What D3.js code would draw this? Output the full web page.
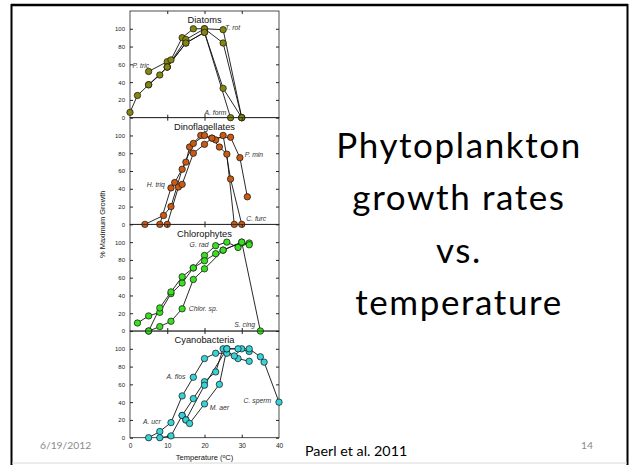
<!DOCTYPE html>
<html>
<head>
<meta charset="utf-8">
<script src="https://cdn.jsdelivr.net/npm/d3@7"></script>
<style>
  body { margin: 0; background: #fff; }
  svg { display: block; }
</style>
</head>
<body>
<svg id="slide"></svg>
<script>
// panel names and marker colours
const groups = ["Diatoms", "Dinoflagellates", "Chlorophytes", "Cyanobacteria"];
const groupColors = ["#858510", "#c95a14", "#3ade22", "#38d2d6"];

// growth curves, [temperature, % max growth], one list of series per panel
const diatomSeries = [
  [[5, 52], [10, 63], [11, 65], [14, 90], [17, 100], [20, 100], [25, 84], [30, 0]],
  [[0, 6], [2, 25], [5, 37], [8, 48], [10, 57], [15, 84], [20, 96], [25, 33], [30, 0]],
  [[5, 37], [10, 57], [15, 88], [20, 100], [25, 99], [30, 0]],
  [[10, 57], [15, 84], [20, 96], [27, 0]]
];
const dinoSeries = [
  [[8, 0], [11, 41], [12, 47], [15, 70], [16, 87], [19, 100], [22, 97], [24, 87], [26, 79], [28, 0]],
  [[4, 0], [9, 10], [11, 20], [14, 62], [17, 91], [20, 100], [23, 95], [25, 100], [27, 51], [30, 0]],
  [[10, 0], [13, 42], [14, 45], [17, 80], [20, 90], [22, 97], [27, 98], [29.5, 75], [31.5, 31]]
];
const chloroSeries = [
  [[2, 9], [5, 17], [8, 21], [11, 42], [14, 54], [17, 71], [20, 85], [23, 96], [26, 100], [29, 94], [32, 99]],
  [[5, 0], [8, 26], [11, 44], [14, 61], [17, 71], [20, 79], [23, 87], [25, 91], [30, 100], [35, 0]],
  [[5, 0], [8, 5], [11, 11], [14, 25], [17, 58], [20, 70], [25, 91], [30, 100], [32, 97]]
];
const cyanoSeries = [
  [[5, 0], [8, 7], [11, 17], [14, 47], [17, 68], [20, 89], [23, 95], [26, 95], [29, 89], [32, 86]],
  [[8, 0], [11, 2], [14, 25], [17, 44], [20, 63], [23, 74], [25, 100], [28, 92], [30, 100]],
  [[14, 25], [15, 20], [20, 59], [26, 100], [29, 100], [32, 97]],
  [[15, 20], [16, 16], [20, 38], [24, 60], [26, 100], [32, 100], [35, 91], [36, 85], [40, 40]]
];
const allSeries = [diatomSeries, dinoSeries, chloroSeries, cyanoSeries];

// species labels: [temperature, % growth, text]
const diatomLabels = [[25.5, 99, "T. rot"], [0.7, 56, "P. tric"], [20, 3, "A. form"]];
const dinoLabels = [[4.5, 42, "H. triq"], [30.8, 76, "P. min"], [31.2, 4, "C. furc"]];
const chloroLabels = [[16, 95, "G. rad"], [15.8, 22, "Chlor. sp."], [28, 5, "S. cing"]];
const cyanoLabels = [[9.8, 66, "A. flos"], [21.4, 31, "M. aer"], [30.5, 39, "C. sperm"], [3.5, 15, "A. ucr"]];
const allLabels = [diatomLabels, dinoLabels, chloroLabels, cyanoLabels];

const yTicks = [0, 20, 40, 60, 80, 100];
const xTicks = [0, 10, 20, 30, 40];
const titleLines = ["Phytoplankton", "growth rates", "vs.", "temperature"];

let width = 630, height = 465;
let plotLeft = 130, plotRight = 279, plotTop = 11, plotBottom = 437.7;
let panelH = (plotBottom - plotTop) / groups.length;

const svg = d3.select("#slide").attr("width", width).attr("height", height);

// slide frame
svg.append("line").attr("x1", 11).attr("x2", 628).attr("y1", 5).attr("y2", 5)
  .attr("stroke", "#000").attr("stroke-width", 2.5);
svg.append("line").attr("x1", 11.5).attr("x2", 11.5).attr("y1", 4).attr("y2", 465)
  .attr("stroke", "#000").attr("stroke-width", 2);
svg.append("line").attr("x1", 627.5).attr("x2", 627.5).attr("y1", 4).attr("y2", 465)
  .attr("stroke", "#000").attr("stroke-width", 2);
svg.append("line").attr("x1", 12).attr("x2", 627).attr("y1", 463).attr("y2", 463)
  .attr("stroke", "#d8d8d8").attr("stroke-width", 1);

let xScale = d3.scaleLinear().domain([0, 40]).range([plotLeft, plotRight]);

const line = d3.line();

groups.forEach((name, gi) => {
  let top = plotTop + gi * panelH;
  let yScale = d3.scaleLinear().domain([0, 120]).range([top + panelH, top]);
  let g = svg.append("g");

  // box with inside ticks
  g.append("rect")
    .attr("x", plotLeft).attr("y", top)
    .attr("width", plotRight - plotLeft).attr("height", panelH)
    .attr("fill", "none").attr("stroke", "#222").attr("stroke-width", 0.8);

  let yAxis = d3.axisLeft(yScale).tickValues(yTicks).tickSizeInner(-3).tickSizeOuter(0).tickPadding(5);
  let ya = g.append("g").attr("transform", `translate(${plotLeft},0)`).call(yAxis);
  ya.select(".domain").remove();
  ya.selectAll("text").attr("font-family", "Liberation Sans, Arial, sans-serif")
    .attr("font-size", 6).attr("fill", "#222");
  ya.selectAll("line").attr("stroke", "#222");

  let yRight = g.append("g").attr("transform", `translate(${plotRight},0)`)
    .call(d3.axisRight(yScale).tickValues(yTicks).tickSizeInner(-3).tickSizeOuter(0).tickFormat(""));
  yRight.select(".domain").remove();
  yRight.selectAll("line").attr("stroke", "#222");

  let xTop = g.append("g").attr("transform", `translate(0,${top})`)
    .call(d3.axisTop(xScale).tickValues(xTicks.slice(1, -1)).tickSizeInner(-3).tickSizeOuter(0).tickFormat(""));
  xTop.select(".domain").remove();
  xTop.selectAll("line").attr("stroke", "#222");

  let xBot = g.append("g").attr("transform", `translate(0,${top + panelH})`)
    .call(d3.axisBottom(xScale).tickValues(xTicks.slice(1, -1)).tickSizeInner(-3).tickSizeOuter(0).tickFormat(""));
  xBot.select(".domain").remove();
  xBot.selectAll("line").attr("stroke", "#222");

  // panel title
  g.append("text")
    .attr("x", xScale(20)).attr("y", yScale(106))
    .attr("text-anchor", "middle")
    .attr("font-family", "Liberation Sans, Arial, sans-serif")
    .attr("font-size", 9.3).attr("fill", "#111")
    .text(name);

  // lines then markers
  g.selectAll("path.curve")
    .data(allSeries[gi])
    .enter()
    .append("path")
    .attr("class", "curve")
    .attr("d", d => line(d.map(p => [xScale(p[0]), yScale(p[1])])))
    .attr("fill", "none").attr("stroke", "#111").attr("stroke-width", 0.9);

  g.selectAll("circle")
    .data(allSeries[gi].flat())
    .enter()
    .append("circle")
    .attr("cx", d => xScale(d[0]))
    .attr("cy", d => yScale(d[1]))
    .attr("r", 3.2)
    .attr("fill", groupColors[gi])
    .attr("stroke", "#111").attr("stroke-width", 0.7);

  g.selectAll("text.lab")
    .data(allLabels[gi])
    .enter()
    .append("text")
    .attr("class", "lab")
    .attr("x", d => xScale(d[0])).attr("y", d => yScale(d[1]))
    .attr("font-family", "Liberation Sans, Arial, sans-serif")
    .attr("font-style", "italic")
    .attr("font-size", 6.8).attr("fill", "#333")
    .text(d => d[2]);
});

// bottom x axis labels
let xAxis = d3.axisBottom(xScale).tickValues(xTicks).tickSize(0).tickPadding(6);
let xa = svg.append("g").attr("transform", `translate(0,${plotBottom})`).call(xAxis);
xa.select(".domain").remove();
xa.selectAll("text").attr("font-family", "Liberation Sans, Arial, sans-serif")
  .attr("font-size", 6.5).attr("fill", "#222");

let xt = svg.append("text")
  .attr("x", xScale(20)).attr("y", 460)
  .attr("text-anchor", "middle")
  .attr("font-family", "Liberation Sans, Arial, sans-serif")
  .attr("font-size", 7.5).attr("fill", "#111");
xt.append("tspan").text("Temperature (");
xt.append("tspan").attr("dy", -2.5).attr("font-size", 5).text("o");
xt.append("tspan").attr("dy", 2.5).text("C)");

svg.append("text")
  .attr("transform", `translate(105,${(plotTop + plotBottom) / 2}) rotate(-90)`)
  .attr("text-anchor", "middle")
  .attr("font-family", "Liberation Sans, Arial, sans-serif")
  .attr("font-size", 7.5).attr("fill", "#111")
  .text("% Maximum Growth");

// slide title on the right
svg.append("g").selectAll("text")
  .data(titleLines)
  .enter()
  .append("text")
  .attr("x", 459)
  .attr("y", (d, i) => 158 + i * 52.3)
  .attr("text-anchor", "middle")
  .attr("font-family", "Lato, sans-serif")
  .attr("font-size", 35)
  .attr("letter-spacing", 1.6)
  .attr("fill", "#000")
  .text(d => d);

// footer
svg.append("text").attr("x", 40).attr("y", 449)
  .attr("font-family", "Lato, sans-serif").attr("font-size", 10.3).attr("fill", "#8a8a8a")
  .text("6/19/2012");
svg.append("text").attr("x", 593).attr("y", 449).attr("text-anchor", "end")
  .attr("font-family", "Lato, sans-serif").attr("font-size", 10.3).attr("fill", "#8a8a8a")
  .text("14");
svg.append("text").attr("x", 305).attr("y", 456)
  .attr("font-family", "Lato, sans-serif").attr("font-size", 14.3).attr("fill", "#000")
  .text("Paerl et al. 2011");
</script>
</body>
</html>
